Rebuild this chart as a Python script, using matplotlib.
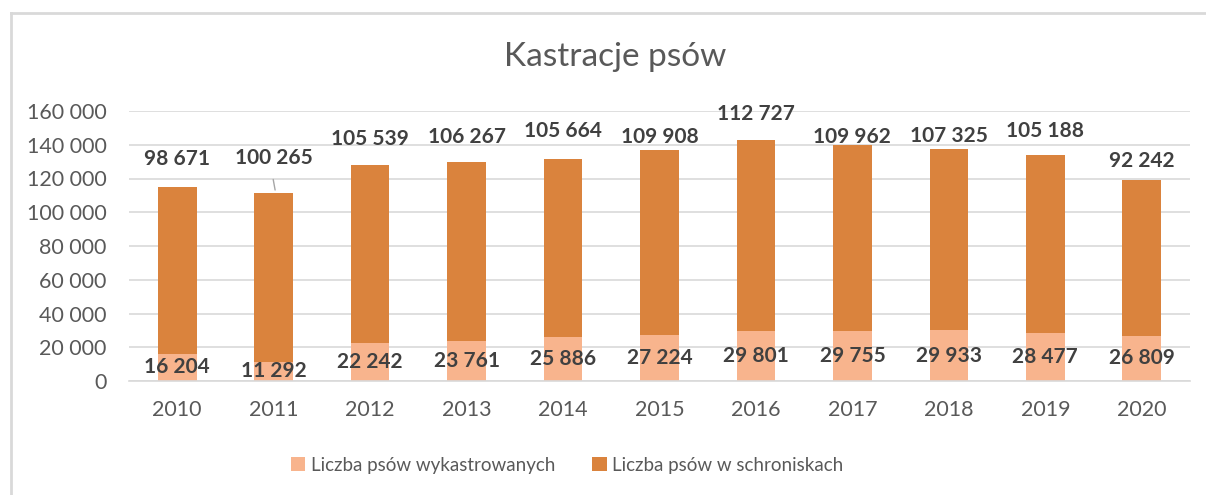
import matplotlib.pyplot as plt
from matplotlib.lines import Line2D
from matplotlib.ticker import FuncFormatter
import numpy as np

years = ["2010", "2011", "2012", "2013", "2014", "2015", "2016", "2017", "2018", "2019", "2020"]
castrated = [16204, 11292, 22242, 23761, 25886, 27224, 29801, 29755, 29933, 28477, 26809]
shelter = [98671, 100265, 105539, 106267, 105664, 109908, 112727, 109962, 107325, 105188, 92242]
labels = ["Liczba psów wykastrowanych", "Liczba psów w schroniskach"]

# pixel offsets of the top labels above the bar tops (moved by hand in the original)
top_label_dy = [28, 35, 26, 25, 28, 13, 26, 8, 13, 24, 19]

c_light = "#F8B48D"
c_dark = "#DA833D"
grey = "#595959"
plt.rcParams['font.family'] = ['Lato', 'DejaVu Sans']

fig = plt.figure(figsize=(12.06, 4.95), dpi=100)
ax = fig.add_axes([129/1206, 1-381/495, 1061/1206, 270/495])

x = np.arange(len(years))
b1 = ax.bar(x, castrated, 0.4, color=c_light, label=labels[0], zorder=2)
b2 = ax.bar(x, shelter, 0.4, bottom=castrated, color=c_dark, label=labels[1], zorder=2)

ax.bar_label(b1, labels=[f"{v:,}".replace(",", " ") for v in castrated], label_type='center',
             fontsize=15, fontweight='bold', color="#404040")

for i in range(len(years)):
    top = castrated[i] + shelter[i]
    ax.annotate(f"{shelter[i]:,}".replace(",", " "), (x[i], top), xytext=(0, top_label_dy[i]),
                textcoords='offset pixels', ha='center', va='center',
                fontsize=15, fontweight='bold', color="#404040", annotation_clip=False)
    if i == 1:
        ax.annotate("", (x[i] + 0.02, top), xytext=(x[i] - 0.01, top + 9500),
                    arrowprops=dict(arrowstyle='-', color="#A6A6A6", lw=1))

ax.set_xlim(-0.5, len(years) - 0.5)
ax.set_ylim(0, 160000)
ax.set_yticks(np.arange(0, 160001, 20000))
ax.yaxis.set_major_formatter(FuncFormatter(lambda v, p: f"{int(v):,}".replace(",", " ")))
ax.set_xticks(x)
ax.set_xticklabels(years)
ax.tick_params(axis='both', length=0, labelsize=15.5, colors=grey)
ax.tick_params(axis='x', pad=14)
ax.tick_params(axis='y', pad=16)
ax.grid(axis='y', color="#D9D9D9", lw=1.2, zorder=0)
for s in ["top", "right", "left"]:
    ax.spines[s].set_visible(False)
ax.spines["bottom"].set_color("#D9D9D9")
ax.spines["bottom"].set_linewidth(1.2)

fig.text(615/1206, 1-57/495, "Kastracje psów", ha='center', va='center', fontsize=24, color=grey)

fig.legend(handles=[b1, b2], loc='center left', bbox_to_anchor=(274/1206, 1-465/495), ncol=2,
           frameon=False, fontsize=13.5, labelcolor=grey, handlelength=0.75, handleheight=0.75,
           handletextpad=0.3, columnspacing=2.0)

# chart frame (only left and top edges visible in the crop)
fig.add_artist(Line2D([11/1206, 11/1206], [0, 1-13/495], color="#D9D9D9", lw=2))
fig.add_artist(Line2D([11/1206, 1], [1-13/495, 1-13/495], color="#D9D9D9", lw=2))

fig.savefig("out.png", dpi=100, facecolor="white")
